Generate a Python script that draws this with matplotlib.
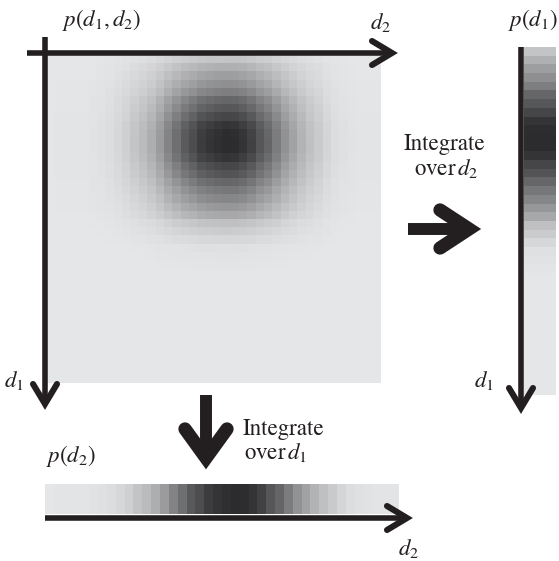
import numpy as np
import matplotlib
matplotlib.use("Agg")
import matplotlib.pyplot as plt
from matplotlib.colors import LinearSegmentedColormap

# shading profiles (0 = background, 1 = darkest) along each direction
p_d1 = [0.18, 0.29, 0.38, 0.46, 0.55, 0.68, 0.76, 0.85, 0.94, 0.98,
        0.99, 0.99, 0.94, 0.85, 0.78, 0.68, 0.59, 0.51, 0.42, 0.33,
        0.20, 0.14, 0.08, 0.03, 0.02, 0.01, 0.0, 0.0, 0.0, 0.0,
        0.0, 0.0, 0.0, 0.0, 0.0, 0.0, 0.0, 0.0, 0.0, 0.0]
p_d2 = [0.0, 0.01, 0.01, 0.01, 0.01, 0.02, 0.03, 0.05, 0.08, 0.12,
        0.18, 0.23, 0.30, 0.40, 0.53, 0.64, 0.75, 0.82, 0.91, 0.95,
        0.98, 1.0, 0.99, 0.95, 0.88, 0.77, 0.69, 0.57, 0.45, 0.36,
        0.27, 0.20, 0.15, 0.09, 0.05, 0.03, 0.02, 0.01, 0.01, 0.01]

ink = "#231f20"
plt.rcParams["mathtext.fontset"] = "stix"
plt.rcParams["font.family"] = "STIXGeneral"

cmap = LinearSegmentedColormap.from_list("paper", ["#e5e6e8", "#2c2c2e"])

# joint density and its two marginals
joint = np.outer(p_d1, p_d2)
marg_d1 = joint.sum(axis=1)
marg_d2 = joint.sum(axis=0)

fig = plt.figure(figsize=(5.59, 5.61), dpi=100)
ax = fig.add_axes([0, 0, 1, 1])
ax.set_xlim(0, 559)
ax.set_ylim(561, 0)
ax.axis("off")

ax.imshow(joint / joint.max(), cmap=cmap, vmin=0, vmax=1,
          extent=(47, 381, 383, 55), interpolation="nearest", aspect="auto")
ax.imshow((marg_d1 / marg_d1.max())[:, None], cmap=cmap, vmin=0, vmax=1,
          extent=(524, 556, 395, 47), interpolation="nearest", aspect="auto")
ax.imshow((marg_d2 / marg_d2.max())[None, :], cmap=cmap, vmin=0, vmax=1,
          extent=(45, 399, 514, 484), interpolation="nearest", aspect="auto")


def arrow(start, tip, lw, head_lw, head_len, head_half):
    x0, y0 = start
    x1, y1 = tip
    length = np.hypot(x1 - x0, y1 - y0)
    ux, uy = (x1 - x0) / length, (y1 - y0) / length
    px, py = -uy, ux
    ax.plot([x0, x1], [y0, y1], color=ink, lw=lw, solid_capstyle="butt")
    bx, by = x1 - ux * head_len, y1 - uy * head_len
    ax.plot([bx + px * head_half, x1, bx - px * head_half],
            [by + py * head_half, y1, by - py * head_half],
            color=ink, lw=head_lw, solid_capstyle="round",
            solid_joinstyle="miter")


# axes of the joint plot and the marginal plots
arrow((27, 53), (392, 53), 4, 4.4, 20, 12)
arrow((45, 37), (45, 404), 4, 4.4, 20, 12)
arrow((521, 47), (521, 408), 4, 4.4, 20, 12)
arrow((45, 518), (407, 518), 4, 4.4, 20, 12)

# integration arrows
arrow((408, 229), (469, 229), 8.6, 9.6, 29, 19)
arrow((206, 395), (206, 458), 8.6, 9.6, 29, 21)

fs = 16.5
ax.text(102, 20, r"$p(d_1,d_2)$", fontsize=fs, color=ink, ha="center", va="center")
ax.text(381, 22, r"$d_2$", fontsize=fs, color=ink, ha="center", va="center")
ax.text(14, 380, r"$d_1$", fontsize=fs, color=ink, ha="center", va="center")
ax.text(558, 20, r"$p(d_1)$", fontsize=fs, color=ink, ha="right", va="center")
ax.text(484, 380, r"$d_1$", fontsize=fs, color=ink, ha="center", va="center")
ax.text(71, 456, r"$p(d_2)$", fontsize=fs, color=ink, ha="center", va="center")
ax.text(409, 549, r"$d_2$", fontsize=fs, color=ink, ha="center", va="center")

ax.text(444, 144, "Integrate", fontsize=fs, color=ink, ha="center", va="center")
ax.text(446, 168, r"over$\,d_2$", fontsize=fs, color=ink, ha="center", va="center")
ax.text(243, 429, "Integrate", fontsize=fs, color=ink, ha="left", va="center")
ax.text(244, 452, r"over$\,d_1$", fontsize=fs, color=ink, ha="left", va="center")

fig.savefig("out.png", dpi=100)
